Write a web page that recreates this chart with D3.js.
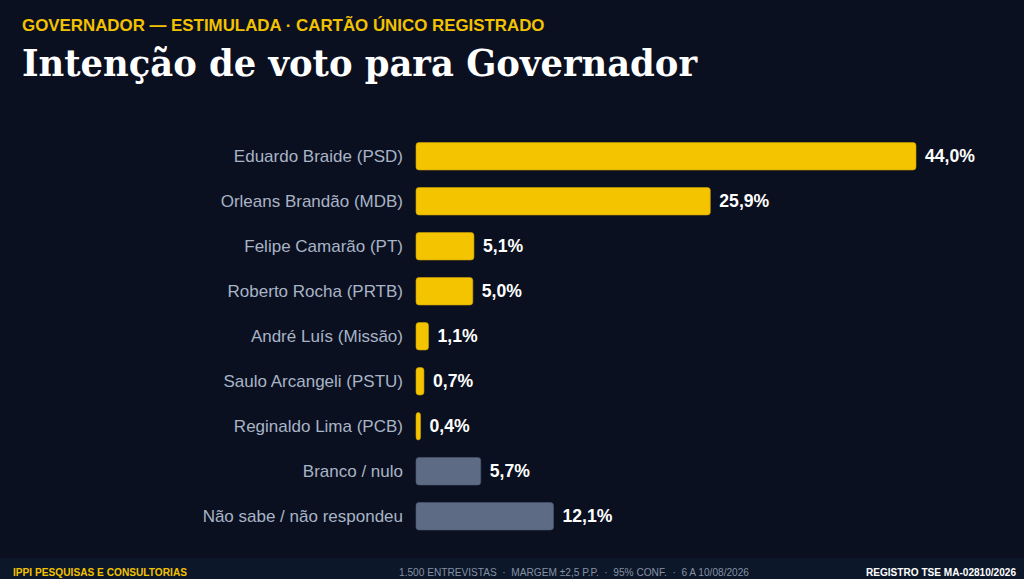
<!DOCTYPE html>
<html><head><meta charset="utf-8">
<script src="https://cdn.jsdelivr.net/npm/d3@7/dist/d3.min.js"></script>
<style>
html,body{margin:0;padding:0;background:#0a1020;}
svg{display:block;}
</style></head>
<body>
<svg id="chart" width="1024" height="579"></svg>
<script>
const categories = ["Eduardo Braide (PSD)","Orleans Brandão (MDB)","Felipe Camarão (PT)","Roberto Rocha (PRTB)","André Luís (Missão)","Saulo Arcangeli (PSTU)","Reginaldo Lima (PCB)","Branco / nulo","Não sabe / não respondeu"];
const values = [44.0, 25.9, 5.1, 5.0, 1.1, 0.7, 0.4, 5.7, 12.1];
const kinds = ["cand","cand","cand","cand","cand","cand","cand","other","other"];
const kicker = "GOVERNADOR — ESTIMULADA · CARTÃO ÚNICO REGISTRADO";
const title = "Intenção de voto para Governador";
const footerLeft = "IPPI PESQUISAS E CONSULTORIAS";
const footerMid = "1.500 ENTREVISTAS  ·  MARGEM ±2,5 P.P.  ·  95% CONF.  ·  6 A 10/08/2026";
const footerRight = "REGISTRO TSE MA-02810/2026";

const svg = d3.select("#chart");
const W = 1024, H = 579;
svg.append("rect").attr("width",W).attr("height",H).attr("fill","#0a1020");

// header
const k = svg.append("text").attr("x",22).attr("y",31)
  .attr("font-family","Liberation Sans, Arial, sans-serif").attr("font-weight",700)
  .attr("font-size",16).attr("fill","#f2c200").text(kicker);
const kw = k.node().getComputedTextLength();
k.attr("font-size", 16*523/kw);
const t = svg.append("text").attr("x",22).attr("y",75.7)
  .attr("font-family","'DejaVu Serif Condensed', 'DejaVu Serif', serif").attr("font-weight",700)
  .attr("font-size",37).attr("fill","#ffffff").text(title);
const tw = t.node().getComputedTextLength();
if (Math.abs(tw-675) > 6) t.attr("textLength",675).attr("lengthAdjust","spacingAndGlyphs");

// scales
const x = d3.scaleLinear().domain([0, d3.max(values)]).range([416, 916]);
const y = d3.scaleBand().domain(categories).range([125, 547.5]).padding(0.3889);

const colors = {cand:"#f5c400", other:"#5d6b84"};
const strokes = {cand:"#c9a000", other:"#4c5970"};

const rows = svg.append("g").selectAll("g").data(categories).join("g");
rows.append("rect")
  .attr("x", x(0)).attr("y", d=>y(d))
  .attr("width", (d,i)=>x(values[i])-x(0))
  .attr("height", y.bandwidth())
  .attr("rx", 3).attr("ry", 3)
  .attr("fill", (d,i)=>colors[kinds[i]])
  .attr("stroke", (d,i)=>strokes[kinds[i]]).attr("stroke-width",0.6);

rows.append("text")
  .attr("x", 403).attr("y", d=>y(d)+y.bandwidth()/2)
  .attr("dy","0.35em").attr("text-anchor","end")
  .attr("font-family","Liberation Sans, Arial, sans-serif").attr("font-size",17)
  .attr("fill","#a9b4c6").text(d=>d);

rows.append("text")
  .attr("x", (d,i)=>x(values[i])+9).attr("y", d=>y(d)+y.bandwidth()/2)
  .attr("dy","0.35em")
  .attr("font-family","Liberation Sans, Arial, sans-serif").attr("font-weight",700).attr("font-size",17.6)
  .attr("fill","#ffffff").text((d,i)=>values[i].toFixed(1).replace(".",",")+"%");

// footer
svg.append("rect").attr("x",0).attr("y",558).attr("width",W).attr("height",H-558).attr("fill","#0c1729");
svg.append("text").attr("x",13).attr("y",575.5)
  .attr("font-family","Liberation Sans, Arial, sans-serif").attr("font-weight",700).attr("font-size",10.5)
  .attr("fill","#f2c200").attr("textLength",174).attr("lengthAdjust","spacingAndGlyphs").text(footerLeft);
svg.append("text").attr("x",399).attr("y",575.5)
  .attr("font-family","Liberation Sans, Arial, sans-serif").attr("font-size",10.5)
  .attr("fill","#8590a3").style("white-space","pre")
  .attr("textLength",350).attr("lengthAdjust","spacingAndGlyphs").text(footerMid);
svg.append("text").attr("x",866).attr("y",575.5)
  .attr("font-family","Liberation Sans, Arial, sans-serif").attr("font-weight",700).attr("font-size",10.5)
  .attr("fill","#ffffff").attr("textLength",150).attr("lengthAdjust","spacingAndGlyphs").text(footerRight);
</script>
</body></html>
